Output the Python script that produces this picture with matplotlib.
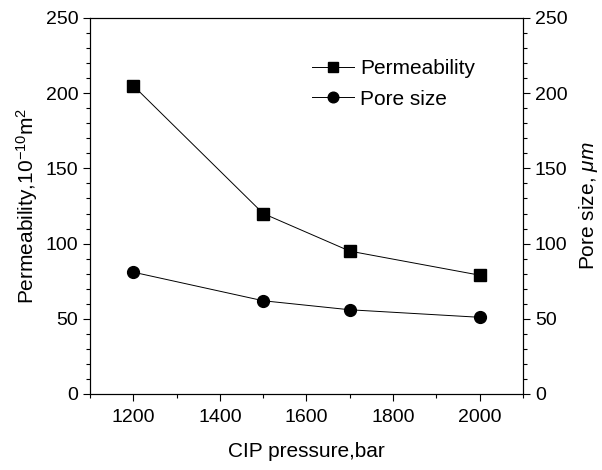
import matplotlib
matplotlib.use("Agg")
import matplotlib.pyplot as plt
from matplotlib.ticker import MultipleLocator

plt.rcParams['font.family'] = ['Liberation Sans', 'DejaVu Sans']
plt.rcParams['mathtext.fontset'] = 'custom'
plt.rcParams['mathtext.rm'] = 'Liberation Sans'
plt.rcParams['mathtext.it'] = 'Liberation Sans:italic'

pressure = [1200, 1500, 1700, 2000]
permeability = [205, 120, 95, 79]
pore_size = [81, 62, 56, 51]

fig = plt.figure(figsize=(6.02, 4.70), dpi=100)
ax = fig.add_axes([90/602, 1-394/470, (523-90)/602, (394-18)/470])
ax2 = ax.twinx()

l1, = ax.plot(pressure, permeability, color='black', lw=0.7, marker='s',
              markersize=8.5, label='Permeability')
l2, = ax2.plot(pressure, pore_size, color='black', lw=0.7, marker='o',
               markersize=8.5, label='Pore size')

ax.set_xlim(1100, 2100)
ax.set_ylim(0, 250)
ax2.set_ylim(0, 250)
ax.xaxis.set_major_locator(MultipleLocator(200))
ax.xaxis.set_minor_locator(MultipleLocator(100))
for a in (ax, ax2):
    a.yaxis.set_major_locator(MultipleLocator(50))
    a.yaxis.set_minor_locator(MultipleLocator(10))
    a.tick_params(which='major', direction='out', length=5, width=0.8, labelsize=14)
    a.tick_params(which='minor', direction='out', length=3, width=0.8)
ax.tick_params(axis='x', pad=6)

ax.set_xlabel('CIP pressure,bar', fontsize=15, labelpad=11)
ax.set_ylabel('Permeability,10$^{-10}$m$^2$', fontsize=15, labelpad=4)
ax2.set_ylabel('Pore size, $\\mathit{\\mu m}$', fontsize=15, labelpad=7)

ax.legend([l1, l2], ['Permeability', 'Pore size'], loc='upper left',
          bbox_to_anchor=(0.47, 0.94), frameon=False, fontsize=15,
          handlelength=2.0, handletextpad=0.3, labelspacing=0.55,
          markerscale=0.9)

fig.savefig('out.png', dpi=100)
